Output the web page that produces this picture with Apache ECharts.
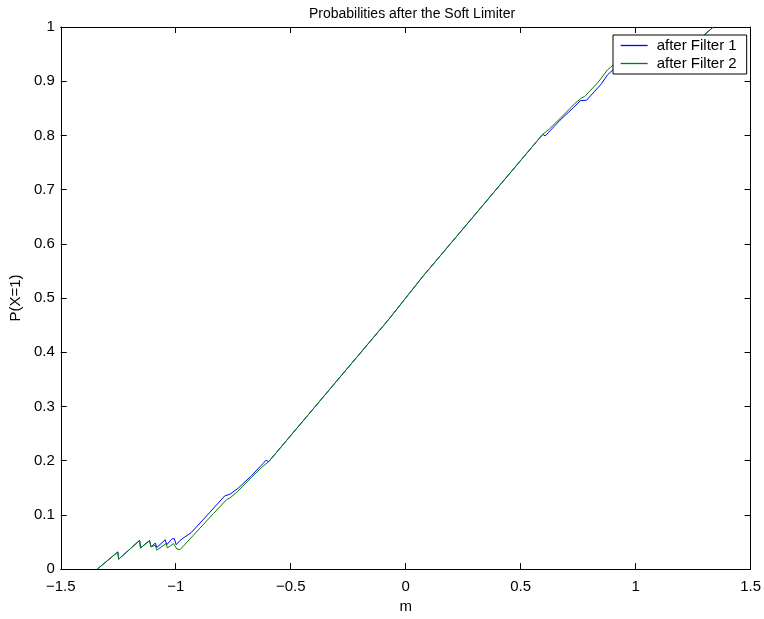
<!DOCTYPE html>
<html>
<head>
<meta charset="utf-8">
<script src="https://cdn.jsdelivr.net/npm/echarts@6/dist/echarts.min.js"></script>
<style>
html,body{margin:0;padding:0;background:#fff;}
#chart{width:764px;height:619px;}
</style>
</head>
<body>
<div id="chart"></div>
<script>
const titleText = 'Probabilities after the Soft Limiter';
const xName = 'm';
const yName = 'P(X=1)';
const seriesNames = ['after Filter 1', 'after Filter 2'];

const xTicks = [-1.5, -1, -0.5, 0, 0.5, 1, 1.5];
const yTicks = [0, 0.1, 0.2, 0.3, 0.4, 0.5, 0.6, 0.7, 0.8, 0.9, 1];

const filter1X = [-1.341, -1.252, -1.248, -1.157, -1.153, -1.114, -1.107, -1.089, -1.082, -1.046, -1.039, -1.016, -1.006, -0.998, -0.981, -0.931, -0.851, -0.787, -0.765, -0.760, -0.729, -0.671, -0.620, -0.607, -0.596, -0.073, 0.073, 0.596, 0.607, 0.620, 0.671, 0.729, 0.760, 0.765, 0.787, 0.851, 0.878, 0.931, 0.981, 0.998, 1.006, 1.016, 1.039, 1.046, 1.082, 1.089, 1.107, 1.114, 1.153, 1.157, 1.248, 1.252, 1.338];
const filter1Y = [0, 0.0316, 0.0183, 0.053, 0.039, 0.0525, 0.041, 0.048, 0.040, 0.054, 0.045, 0.056, 0.056, 0.045, 0.053, 0.068, 0.105, 0.135, 0.138, 0.136, 0.149, 0.172, 0.195, 0.201, 0.198, 0.461, 0.539, 0.802, 0.799, 0.805, 0.828, 0.851, 0.864, 0.862, 0.865, 0.895, 0.912, 0.932, 0.947, 0.955, 0.944, 0.944, 0.955, 0.946, 0.960, 0.952, 0.959, 0.9475, 0.961, 0.947, 0.9817, 0.968, 1.0];

const filter2X = [-1.341, -1.252, -1.248, -1.157, -1.153, -1.114, -1.107, -1.089, -1.082, -1.042, -1.036, -1.010, -0.995, -0.981, -0.924, -0.837, -0.779, -0.765, -0.736, -0.671, -0.620, -0.596, -0.073, 0.073, 0.596, 0.620, 0.671, 0.736, 0.765, 0.779, 0.837, 0.878, 0.924, 0.981, 0.995, 1.010, 1.036, 1.042, 1.082, 1.089, 1.107, 1.114, 1.153, 1.157, 1.248, 1.252, 1.338];
const filter2Y = [0, 0.0316, 0.0183, 0.053, 0.039, 0.0525, 0.041, 0.044, 0.035, 0.047, 0.039, 0.047, 0.037, 0.036, 0.062, 0.102, 0.128, 0.131, 0.141, 0.169, 0.190, 0.198, 0.461, 0.539, 0.802, 0.810, 0.831, 0.859, 0.869, 0.872, 0.898, 0.921, 0.938, 0.964, 0.963, 0.953, 0.961, 0.953, 0.965, 0.956, 0.959, 0.9475, 0.961, 0.947, 0.9817, 0.968, 1.0];

function pairs(xs, ys) { return xs.map((x, i) => [x, ys[i]]); }

const FONT = 'Liberation Sans, Arial, Helvetica, sans-serif';
const fmtX = v => String(+(+v).toFixed(1)).replace('-', '\u2212');
const fmtY = v => String(+(+v).toFixed(1));
const colors = ['#0000ff', '#008000'];

const chart = echarts.init(document.getElementById('chart'), null, {renderer: 'canvas'});

const xBase = {
  type: 'value', min: xTicks[0], max: xTicks[xTicks.length - 1], interval: 0.5,
  axisLine: {show: true, onZero: false, lineStyle: {color: '#000', width: 1}},
  axisTick: {show: true, inside: true, length: 6, lineStyle: {color: '#000'}},
  splitLine: {show: false}
};
const yBase = {
  type: 'value', min: yTicks[0], max: yTicks[yTicks.length - 1], interval: 0.1,
  axisLine: {show: true, onZero: false, lineStyle: {color: '#000', width: 1}},
  axisTick: {show: true, inside: true, length: 6, lineStyle: {color: '#000'}},
  splitLine: {show: false}
};

chart.setOption({
  backgroundColor: '#fff',
  animation: false,
  color: colors,
  title: {
    text: titleText, left: 407, top: 2, textAlign: 'center',
    textStyle: {fontFamily: FONT, fontSize: 14, fontWeight: 'normal', color: '#000'}
  },
  grid: {left: 60, right: 10, top: 27, bottom: 45, containLabel: false},
  legend: {
    left: 613, top: 35, orient: 'vertical',
    backgroundColor: '#fff', borderColor: '#000', borderWidth: 1,
    padding: [3, 10, 3, 7], itemGap: 3, itemWidth: 27, itemHeight: 15,
    itemStyle: {opacity: 0},
    lineStyle: {width: 1.3},
    textStyle: {fontFamily: FONT, fontSize: 15, color: '#000', padding: [0, 0, 0, 4]},
    data: [
      {name: seriesNames[0], lineStyle: {color: colors[0]}},
      {name: seriesNames[1], lineStyle: {color: colors[1]}}
    ]
  },
  xAxis: [
    Object.assign({}, xBase, {
      position: 'bottom',
      name: xName, nameLocation: 'middle', nameGap: 13,
      nameTextStyle: {fontFamily: FONT, fontSize: 15, color: '#000'},
      axisLabel: {show: true, margin: 10, fontFamily: FONT, fontSize: 15, color: '#000', formatter: fmtX}
    }),
    Object.assign({}, xBase, {position: 'top', axisLabel: {show: false}})
  ],
  yAxis: [
    Object.assign({}, yBase, {
      position: 'left',
      name: yName, nameLocation: 'middle', nameGap: 33,
      nameTextStyle: {fontFamily: FONT, fontSize: 15, color: '#000'},
      axisLabel: {show: true, margin: 6, fontFamily: FONT, fontSize: 15, color: '#000', formatter: fmtY}
    }),
    Object.assign({}, yBase, {position: 'right', axisLabel: {show: false}})
  ],
  series: [
    {
      name: seriesNames[0], type: 'line', data: pairs(filter1X, filter1Y),
      symbol: 'none', showSymbol: false,
      itemStyle: {color: colors[0]},
      lineStyle: {color: colors[0], width: 1}, xAxisIndex: 0, yAxisIndex: 0, z: 2
    },
    {
      name: seriesNames[1], type: 'line', data: pairs(filter2X, filter2Y),
      symbol: 'none', showSymbol: false,
      itemStyle: {color: colors[1]},
      lineStyle: {color: colors[1], width: 1}, xAxisIndex: 0, yAxisIndex: 0, z: 3
    }
  ]
});
</script>
</body>
</html>
